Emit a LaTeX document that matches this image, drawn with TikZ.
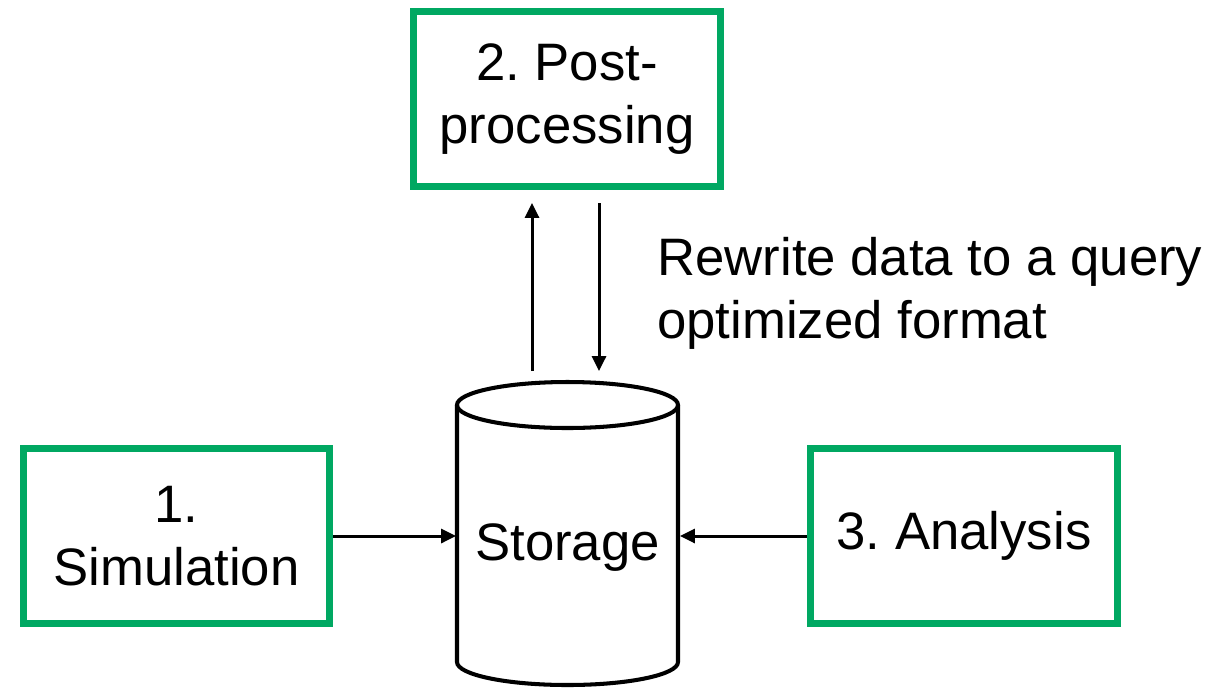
\documentclass[tikz,border=0pt]{standalone}
\usepackage{fontspec}
\setmainfont{Liberation Sans}
\frenchspacing
\usetikzlibrary{arrows.meta}
\definecolor{boxgreen}{RGB}{0,168,98}
\tikzset{
  greenbox/.style={draw=boxgreen, line width=4pt, minimum width=6.14cm, minimum height=3.5cm, inner sep=0pt, align=center, font=\fontsize{30}{35.7}\selectfont},
  label/.style={inner sep=0pt, font=\fontsize{30}{35.7}\selectfont},
  conn/.style={line width=1.7pt, -{Triangle[length=8.5pt,width=8pt]}},
  cyl/.style={line width=2.3pt}
}
\begin{document}
\begin{tikzpicture}[x=0.02cm,y=-0.02cm]
\useasboundingbox (0,0) rectangle (1222,687);
% boxes
\node[greenbox] (post) at (567,99) {2. Post-\\processing};
\node[greenbox] (sim) at (176.5,536) {1.\\Simulation};
\node[greenbox] (ana) at (964,536) {3. Analysis};
% cylinder
\draw[cyl] (457,405) -- (457,662) arc[start angle=180, end angle=360, x radius=110.5, y radius=-23] -- (678,405);
\draw[cyl] (567.5,405) ellipse[x radius=110.5, y radius=23];
\node[label] (storage) at (567.5,548) {Storage};
\coordinate (stL) at (456,536);
\coordinate (stR) at (680,536);
\coordinate (upS) at (532,371);
\coordinate (upE) at (532,203);
\coordinate (dnS) at (599,203);
\coordinate (dnE) at (599,371);
% connectors
\draw[conn] (sim.east) -- (stL);
\draw[conn] (ana.west) -- (stR);
\draw[conn] (upS) -- (upE);
\draw[conn] (dnS) -- (dnE);
% label
\node[label, anchor=west, align=left] (rw) at (657,293.5) {Rewrite data to a query\\optimized format};
\end{tikzpicture}
\end{document}
